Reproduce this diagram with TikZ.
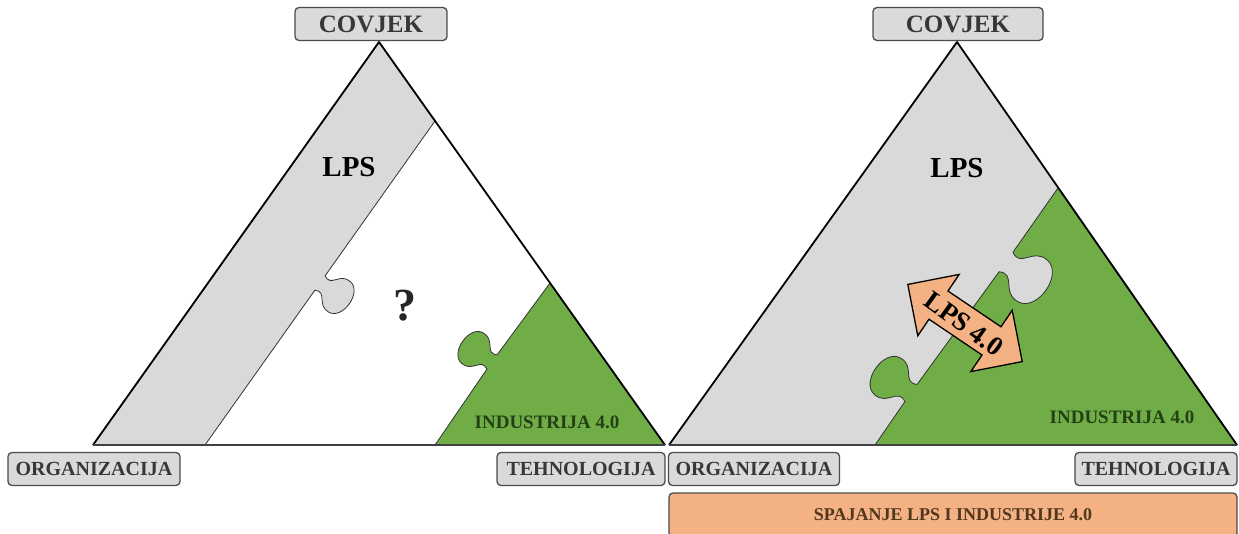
\documentclass[tikz,border=0pt]{standalone}
\usepackage{fontspec}
\setmainfont{Liberation Serif}
\definecolor{lps-grey}{RGB}      {217, 217, 217}
\definecolor{box-grey}{RGB}      {218, 218, 218}
\definecolor{box-line}{RGB}      { 75,  75,  75}
\definecolor{lbl-text}{RGB}      { 55,  55,  55}
\definecolor{ind-green}{RGB}     {112, 173,  71}
\definecolor{ind-text}{RGB}      { 35,  65,  20}
\definecolor{lps-orange}{RGB}    {244, 177, 131}
\definecolor{spoj-text}{RGB}     { 80,  55,  30}
% puzzle tab: centre on the cut line, angle of the line, size, side (1 right, -1 left)
\newcommand\knob[4]{{[shift={#1},rotate=#2,scale=#3,yscale=#4]
	-- (-7,0) .. controls (-2,9) and (-16,8) .. (-15,19)
	.. controls (-14,32) and (14,32) .. (15,19)
	.. controls (16,8) and (2,9) .. (7,0)}}

\begin{document}
\begin{tikzpicture}[x=1pt,y=-1pt,
	pole/.style={draw=box-line,fill=box-grey,rounded corners=4pt,line width=1.3pt,
		text=lbl-text,inner sep=0pt,minimum height=33pt,
		font=\bfseries\fontsize{20}{20}\selectfont},
	cut/.style={draw=black!80,line width=0.8pt,line join=round},
	edge/.style={line width=1.8pt,line join=round},
	base/.style={line width=2.8pt,draw=black!75}]
\useasboundingbox (0,0) rectangle (1239,533);
\fill[white] (0,0) rectangle (1239,533);

% left triangle
\coordinate (top1) at (379,42);
\coordinate (lft1) at (93,445);
\coordinate (rgt1) at (665,445);
\path[cut,fill=lps-grey] (205,445) \knob{(320,283)}{54.6}{1.25}{1} -- (435,121) -- (top1) -- (lft1) -- cycle;
\path[cut,fill=ind-green] (435,445) \knob{(492,362)}{54.6}{1.25}{-1} -- (550,283) -- (rgt1) -- cycle;
\draw[edge] (lft1) -- (top1) -- (rgt1);
\draw[base] (lft1) -- (rgt1);

% right triangle
\coordinate (top2) at (957,42);
\coordinate (lft2) at (669,445);
\coordinate (rgt2) at (1237,445);
\fill[lps-grey] (lft2) -- (top2) -- (rgt2) -- cycle;
\path[cut,fill=ind-green] (875,445) \knob{(911,393)}{54.6}{1.5}{-1} \knob{(1006,262)}{54.6}{1.7}{1} -- (1058,188) -- (rgt2) -- cycle;
\draw[edge] (lft2) -- (top2) -- (rgt2);
\draw[base] (lft2) -- (rgt2);

% double arrow
\begin{scope}[shift={(965,323)},rotate=-34]
	\filldraw[fill=lps-orange,line width=1.3pt,line join=miter]
		(-69,0) -- (-32,-37) -- (-32,-17) -- (32,-17) -- (32,-37) -- (69,0)
		-- (32,37) -- (32,17) -- (-32,17) -- (-32,37) -- cycle;
\end{scope}
\node[rotate=-36,font=\bfseries\fontsize{27}{27}\selectfont] (lps40) at (964,324) {LPS 4.0};

% texts
\node[font=\bfseries\fontsize{29}{29}\selectfont] (lps1) at (349,167) {LPS};
\node[font=\bfseries\fontsize{29}{29}\selectfont] (lps2) at (957,168) {LPS};
\node[font=\bfseries\fontsize{46}{46}\selectfont,text=black!85] (quest) at (405,306) {?};
\node[font=\bfseries\fontsize{19}{19}\selectfont,text=ind-text] (ind1) at (547,422) {INDUSTRIJA 4.0};
\node[font=\bfseries\fontsize{19}{19}\selectfont,text=ind-text] (ind2) at (1122,417) {INDUSTRIJA 4.0};

% corner labels
\node[pole,minimum width=152pt,font=\bfseries\fontsize{25}{25}\selectfont] (cov1) at (371,24) {COVJEK};
\node[pole,minimum width=170pt,font=\bfseries\fontsize{25}{25}\selectfont] (cov2) at (958,24) {COVJEK};
\node[pole,minimum width=172pt] (org1) at (94,469) {ORGANIZACIJA};
\node[pole,minimum width=168pt] (teh1) at (581,469) {TEHNOLOGIJA};
\node[pole,minimum width=171pt] (org2) at (754,469) {ORGANIZACIJA};
\node[pole,minimum width=162pt] (teh2) at (1156,469) {TEHNOLOGIJA};
\node[pole,fill=lps-orange,minimum width=568pt,minimum height=44pt,text=spoj-text,
	font=\bfseries\fontsize{18}{18}\selectfont] (spoj) at (953,515) {SPAJANJE LPS I INDUSTRIJE 4.0};
\end{tikzpicture}
\end{document}
